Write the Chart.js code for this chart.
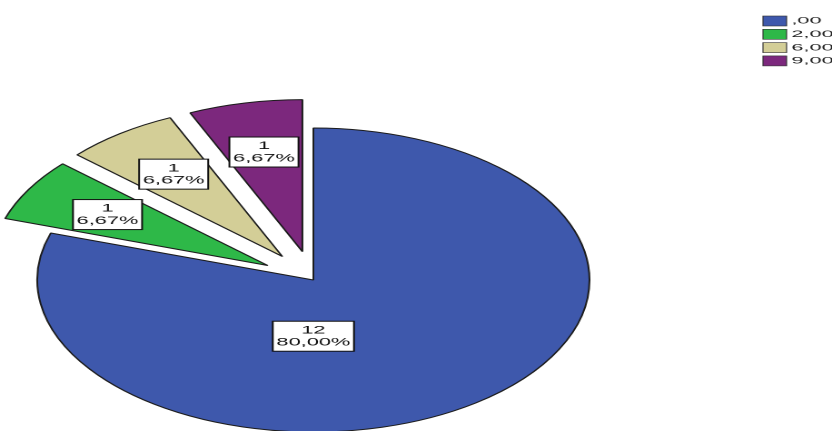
<!DOCTYPE html>
<html>
<head>
<meta charset="utf-8">
<script src="https://cdn.jsdelivr.net/npm/chart.js@4.4.1/dist/chart.umd.min.js"></script>
<style>
  html, body { margin: 0; padding: 0; background: #fff; overflow: hidden; }
  /* o gráfico original foi esticado na horizontal: a pizza vira elipse */
  #wrap { width: 458px; height: 431px; transform: scaleX(1.8166); transform-origin: 0 0; }
</style>
</head>
<body>
<div id="wrap"><canvas id="pieChart" width="458" height="431"></canvas></div>
<script>
// Dados
const categorias = [',00', '2,00', '6,00', '9,00'];   // valores da variável
const contagens = [12, 1, 1, 1];                        // frequência de cada valor
const cores = ['#3e58ac', '#2eb848', '#d3ce97', '#7c287d'];
const destaque = [0, 29, 29, 29];                       // deslocamento das fatias destacadas

const total = contagens.reduce((a, b) => a + b, 0);

// Afasta as fatias destacadas do centro (sem aumentar o raio, como faz o "offset")
const explodirFatias = {
    id: 'explodirFatias',
    beforeDatasetsDraw(chart) {
        chart.getDatasetMeta(0).data.forEach((arc, i) => {
            const meio = (arc.startAngle + arc.endAngle) / 2;
            arc._dx = Math.cos(meio) * destaque[i];
            arc._dy = Math.sin(meio) * destaque[i];
            arc.x += arc._dx;
            arc.y += arc._dy;
        });
    },
    afterDatasetsDraw(chart) {
        const ctx = chart.ctx;
        chart.getDatasetMeta(0).data.forEach((arc, i) => {
            const meio = (arc.startAngle + arc.endAngle) / 2;
            const r = arc.outerRadius;
            let px, py;
            if (arc.endAngle - arc.startAngle > Math.PI) {
                // fatia grande: rótulo logo abaixo do centro
                px = arc.x;
                py = arc.y + r * 0.37;
            } else {
                px = arc.x + Math.cos(meio) * r * 0.67;
                py = arc.y + Math.sin(meio) * r * 0.67;
            }
            const pct = (contagens[i] / total * 100).toFixed(2).replace('.', ',') + '%';
            const linhas = [String(contagens[i]), pct];

            ctx.save();
            ctx.font = '12px "Liberation Sans", Arial, sans-serif';
            const larg = Math.max(...linhas.map(t => ctx.measureText(t).width)) + 4;
            const alt = 30;
            ctx.fillStyle = '#ffffff';
            ctx.fillRect(px - larg / 2, py - alt / 2, larg, alt);
            ctx.strokeStyle = '#111';
            ctx.lineWidth = 1;
            ctx.strokeRect(px - larg / 2, py - alt / 2, larg, alt);
            ctx.fillStyle = '#111';
            ctx.textAlign = 'center';
            ctx.textBaseline = 'middle';
            ctx.translate(px, py);
            ctx.scale(1, 0.9);
            ctx.fillText(linhas[0], 0, -6.5);
            ctx.fillText(linhas[1], 0, 7);
            ctx.restore();

            arc.x -= arc._dx;
            arc.y -= arc._dy;
        });
    }
};

// Legenda no canto superior direito, no estilo do SPSS
const legendaSpss = {
    id: 'legendaSpss',
    afterDraw(chart) {
        const ctx = chart.ctx;
        const x0 = chart.width - 38;
        categorias.forEach((cat, i) => {
            const y = 16 + i * 13.3;
            ctx.save();
            ctx.fillStyle = cores[i];
            ctx.fillRect(x0, y, 13, 10);
            ctx.strokeStyle = '#333';
            ctx.lineWidth = 0.6;
            ctx.strokeRect(x0, y, 13, 10);
            ctx.fillStyle = '#222';
            ctx.font = '12px "Liberation Sans", Arial, sans-serif';
            ctx.textBaseline = 'middle';
            ctx.translate(x0 + 15.6, y + 5);
            ctx.scale(1, 0.8);
            ctx.fillText(cat, 0, 0);
            ctx.restore();
        });
    }
};

const ctx = document.getElementById('pieChart').getContext('2d');

new Chart(ctx, {
    type: 'pie',
    data: {
        labels: categorias,
        datasets: [{
            data: contagens,
            backgroundColor: cores,
            borderColor: '#1c1c1c',
            borderWidth: 1
        }]
    },
    options: {
        responsive: false,
        devicePixelRatio: 2,
        animation: false,
        radius: 152,
        layout: {
            padding: { left: 0, right: 113, top: 129, bottom: 0 }
        },
        plugins: {
            legend: { display: false },
            tooltip: { enabled: false }
        }
    },
    plugins: [explodirFatias, legendaSpss]
});
</script>
</body>
</html>
